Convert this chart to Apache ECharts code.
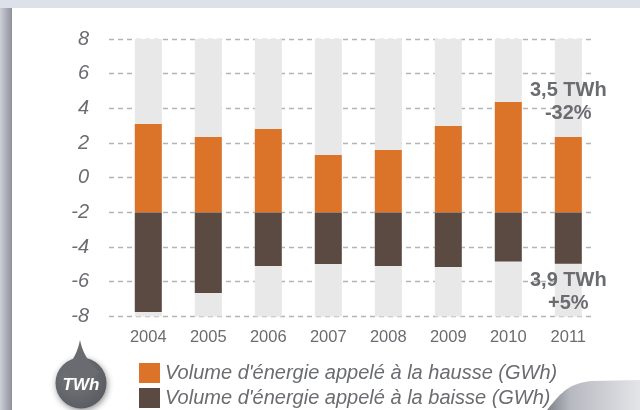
<!DOCTYPE html>
<html>
<head>
<meta charset="utf-8">
<script src="https://cdn.jsdelivr.net/npm/echarts@6/dist/echarts.min.js"></script>
<style>
  html, body { margin: 0; padding: 0; background: #dde1ea; }
  #chart { width: 640px; height: 410px; }
</style>
</head>
<body>
<div id="chart"></div>
<script>
// Years on the category axis
const years = ['2004', '2005', '2006', '2007', '2008', '2009', '2010', '2011'];
// Upper end of each "hausse" bar and lower end of each "baisse" bar (axis units)
const hausseTop = [3.10, 2.35, 2.81, 1.31, 1.60, 2.98, 4.37, 2.35];
const baisseBottom = [-7.74, -6.65, -5.09, -4.98, -5.09, -5.15, -4.84, -4.96];
// Both bar families grow from this level
const barBase = -2;
// Value axis range and tick step
const yMin = -8;
const yMax = 8;
const yStep = 2;

const hausseName = "Volume d'énergie appelé à la hausse (GWh)";
const baisseName = "Volume d'énergie appelé à la baisse (GWh)";
const hausseNote = ['3,5 TWh', '-32%'];
const baisseNote = ['3,9 TWh', '+5%'];
const unitLabel = 'TWh';

const ORANGE = '#db7428';
const BROWN = '#5b4a42';
const TRACK = '#e8e8e8';
const TEXT = '#6a6c70';
const FONT = 'Liberation Sans';

const lastIdx = years.length - 1;

// Lengths from the common base, built from the bar ends
const hausseLen = hausseTop.map((v, i) => {
  const len = +(v - barBase).toFixed(3);
  if (i !== lastIdx) return len;
  return {
    value: len,
    label: {
      show: true, position: 'top', distance: 12,
      formatter: hausseNote.join('\n'),
      color: TEXT, fontFamily: FONT, fontWeight: 'bold', fontSize: 20, lineHeight: 23
    }
  };
});
const baisseLen = baisseBottom.map((v, i) => {
  const len = +(v - barBase).toFixed(3);
  if (i !== lastIdx) return len;
  return {
    value: len,
    label: {
      show: true, position: 'bottom', distance: 5,
      formatter: baisseNote.join('\n'),
      color: TEXT, fontFamily: FONT, fontWeight: 'bold', fontSize: 20, lineHeight: 23
    }
  };
});
const baseRow = years.map(() => barBase);

// Sample cubic / quadratic curves into polygon points for the decorative shapes
function cubic(p0, p1, p2, p3, n) {
  const pts = [];
  for (let k = 0; k <= n; k++) {
    const t = k / n, u = 1 - t;
    pts.push([
      u*u*u*p0[0] + 3*u*u*t*p1[0] + 3*u*t*t*p2[0] + t*t*t*p3[0],
      u*u*u*p0[1] + 3*u*u*t*p1[1] + 3*u*t*t*p2[1] + t*t*t*p3[1]
    ]);
  }
  return pts;
}
function quad(p0, p1, p2, n) {
  const pts = [];
  for (let k = 0; k <= n; k++) {
    const t = k / n, u = 1 - t;
    pts.push([u*u*p0[0] + 2*u*t*p1[0] + t*t*p2[0], u*u*p0[1] + 2*u*t*p1[1] + t*t*p2[1]]);
  }
  return pts;
}
const curlPoints = cubic([547, 410], [560, 394], [568, 383], [592, 381], 24)
  .concat([[640, 380], [640, 410]]);
const tipPoints = quad([62, 372], [76, 360], [80, 340], 12)
  .concat(quad([80, 340], [84, 360], [100, 372], 12).slice(1))
  .concat([[81, 385]]);

const chart = echarts.init(document.getElementById('chart'), null, { renderer: 'canvas' });

const plotTop = 39;
const plotHeight = 277.4;

const barCommon = {
  type: 'bar',
  xAxisIndex: 1,
  yAxisIndex: 1,
  barWidth: 27,
  barGap: '-100%',
  stackStrategy: 'all',
  animation: false
};

const bubbleFill = {
  type: 'radial', x: 0.4, y: 0.4, r: 0.75, colorStops: [
    { offset: 0, color: '#76787d' }, { offset: 1, color: '#55575c' }]
};

const legendText = { color: TEXT, fontFamily: FONT, fontStyle: 'italic', fontSize: 20, lineHeight: 20 };

chart.setOption({
  backgroundColor: '#dde1ea',
  animation: false,
  graphic: [
    // page panel
    { type: 'rect', z: -20, silent: true, shape: { x: 12, y: 8, width: 628, height: 402 }, style: { fill: '#ffffff' } },
    // shaded left margin
    {
      type: 'rect', z: -20, silent: true, shape: { x: 0, y: 8, width: 12, height: 402 },
      style: { fill: { type: 'linear', x: 0, y: 0, x2: 1, y2: 0, colorStops: [
        { offset: 0, color: '#cdd0d7' }, { offset: 1, color: '#8d9099' }] } }
    },
    // curled page corner
    {
      type: 'polygon', z: 20, silent: true,
      shape: { points: curlPoints },
      style: { fill: { type: 'linear', x: 0, y: 0, x2: 1, y2: 0, colorStops: [
        { offset: 0, color: '#7f828a' }, { offset: 0.25, color: '#b7b9c0' }, { offset: 1, color: '#e4e5e9' }] } }
    },
    // unit bubble
    {
      type: 'circle', z: 20, silent: true,
      shape: { cx: 81, cy: 383, r: 25.5 },
      style: { fill: bubbleFill, shadowBlur: 6, shadowColor: 'rgba(0,0,0,0.45)', shadowOffsetX: 1, shadowOffsetY: 2 }
    },
    {
      type: 'polygon', z: 21, silent: true,
      shape: { points: tipPoints },
      style: { fill: '#696b70' }
    },
    {
      type: 'text', z: 22, silent: true, x: 81, y: 385,
      style: {
        text: unitLabel, fill: '#ffffff', font: 'italic bold 17px "' + FONT + '"',
        align: 'center', verticalAlign: 'middle'
      }
    }
  ],
  grid: [
    { left: 109, right: 49, top: plotTop, height: plotHeight },
    { left: 118.3, width: 480, top: plotTop, height: plotHeight }
  ],
  xAxis: [
    { gridIndex: 0, type: 'value', show: false, min: 0, max: 1 },
    {
      gridIndex: 1, type: 'category', data: years,
      axisLine: { show: false }, axisTick: { show: false },
      axisLabel: { color: TEXT, fontFamily: FONT, fontSize: 16.5, margin: 13 }
    }
  ],
  yAxis: [
    {
      gridIndex: 0, type: 'value', min: yMin, max: yMax, interval: yStep,
      axisLine: { show: false }, axisTick: { show: false },
      axisLabel: { color: TEXT, fontFamily: FONT, fontStyle: 'italic', fontSize: 20, margin: 20 },
      splitLine: { show: true, lineStyle: { color: '#b4b4b4', width: 1.4, type: [5, 4] } }
    },
    { gridIndex: 1, type: 'value', min: yMin, max: yMax, interval: yStep, show: false, splitLine: { show: false } }
  ],
  legend: [
    {
      left: 134, top: 358, itemWidth: 21, itemHeight: 20,
      icon: 'rect', data: [hausseName], textStyle: legendText, selectedMode: false
    },
    {
      left: 134, top: 383, itemWidth: 21, itemHeight: 20,
      icon: 'rect', data: [baisseName], textStyle: legendText, selectedMode: false
    }
  ],
  series: [
    Object.assign({}, barCommon, {
      name: 'base-up', stack: 'up', data: baseRow,
      itemStyle: { color: 'rgba(0,0,0,0)' },
      showBackground: true, backgroundStyle: { color: TRACK }, silent: true
    }),
    Object.assign({}, barCommon, {
      name: hausseName, stack: 'up', data: hausseLen, itemStyle: { color: ORANGE }
    }),
    Object.assign({}, barCommon, {
      name: 'base-down', stack: 'down', data: baseRow,
      itemStyle: { color: 'rgba(0,0,0,0)' }, silent: true
    }),
    Object.assign({}, barCommon, {
      name: baisseName, stack: 'down', data: baisseLen, itemStyle: { color: BROWN }
    })
  ]
});
</script>
</body>
</html>
